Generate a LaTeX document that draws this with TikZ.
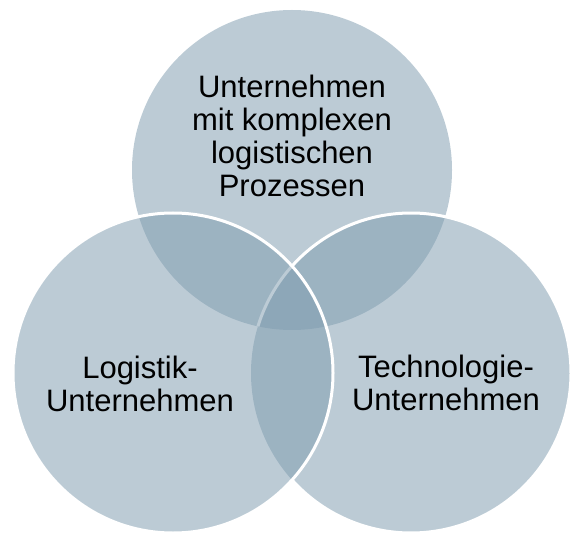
\documentclass[tikz,border=0pt]{standalone}
\usepackage{fontspec}
\setmainfont{Liberation Sans}

\definecolor{vennblue}{RGB}{127,156,175}
\tikzset{
  ring/.style={fill=vennblue, fill opacity=0.52},
  rim/.style={draw=white, line width=3pt},
  venntext/.style={align=center, font=\fontsize{31}{33}\selectfont}
}

\begin{document}
\begin{tikzpicture}[x=1pt, y=1pt]
  \useasboundingbox (0,0) rectangle (572,533);
  \coordinate (cprozess) at (292,363);
  \coordinate (ctech) at (411,160);
  \coordinate (clogistik) at (173,160);
  % the three circles
  \fill[ring] (cprozess) circle (160pt);
  \fill[ring] (ctech) circle (160pt);
  \draw[rim] ([shift={(-138.04:160pt)}]ctech) arc[start angle=-138.04, end angle=163.04, radius=160pt];
  \filldraw[ring, rim] (clogistik) circle (160pt);
  % texts
  \node[venntext] (prozess) at (292,397) {Unternehmen\\mit komplexen\\logistischen\\Prozessen};
  \node[venntext] (logistik) at (140,149) {Logistik-\\Unternehmen};
  \node[venntext] (tech) at (446,150) {Technologie-\\Unternehmen};
\end{tikzpicture}
\end{document}
